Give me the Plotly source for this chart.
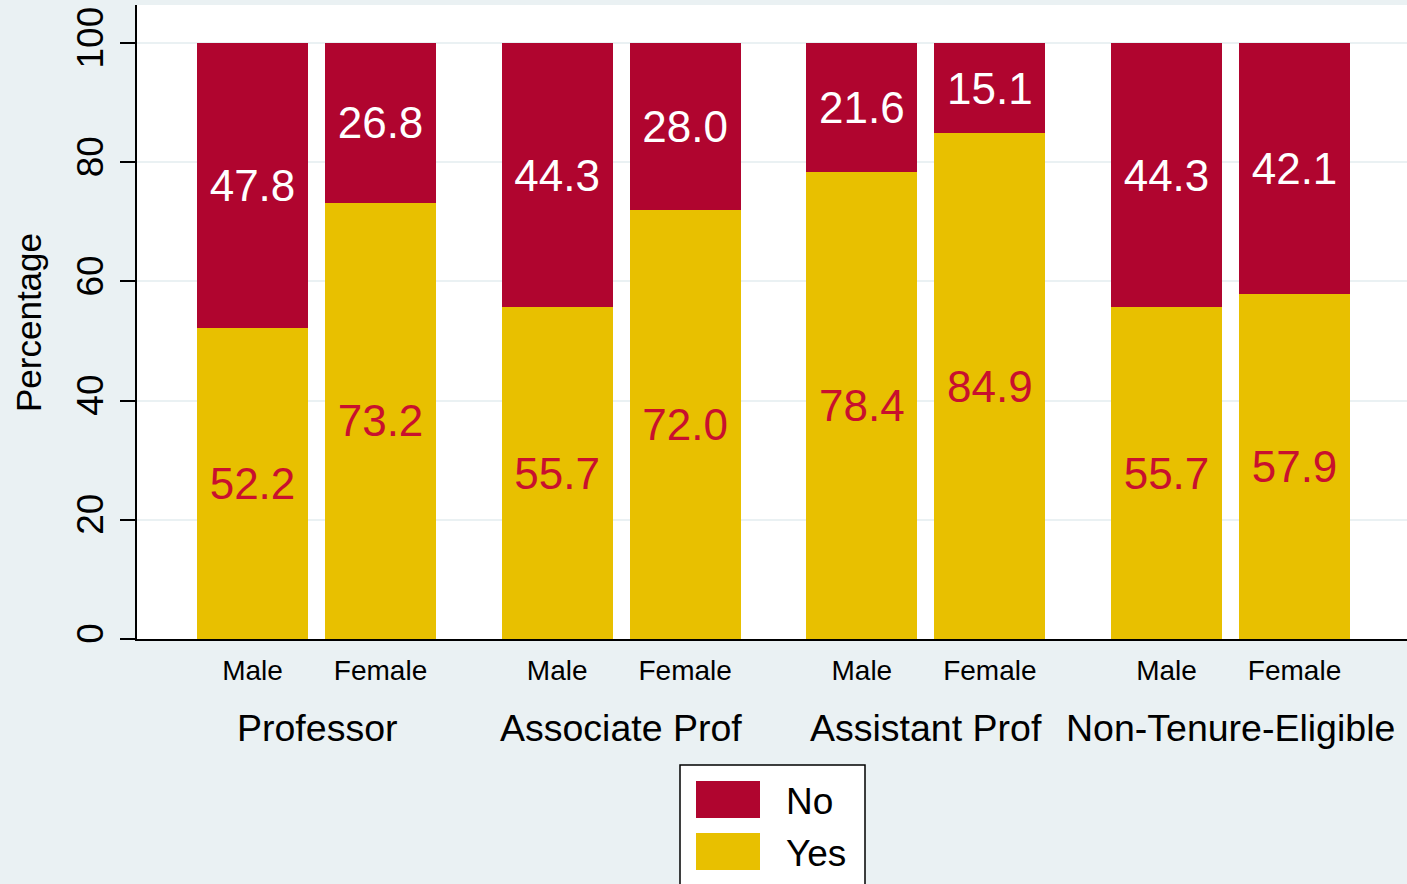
import plotly.graph_objects as go

groups = ["Professor", "Associate Prof", "Assistant Prof", "Non-Tenure-Eligible"]
sexes = ["Male", "Female"]
no_vals = [47.8, 26.8, 44.3, 28.0, 21.6, 15.1, 44.3, 42.1]
yes_vals = [52.2, 73.2, 55.7, 72.0, 78.4, 84.9, 55.7, 57.9]
y_ticks = [0, 20, 40, 60, 80, 100]

RED = "#B0052F"
YELLOW = "#E8C000"
YES_TEXT = "#C8102E"
BG = "#EAF1F3"
FONT = "Liberation Sans, Arial, sans-serif"

W, H = 1407, 884
L, R, T, B = 137, 0, 5, 245
PW, PH = W - L - R, H - T - B

def px(x):
    return (x - L) / PW

def py(y):
    return (H - B - y) / PH

# bar positions (layout): group centre g, sex offset
off = 0.2101
xs = []
for g in range(len(groups)):
    xs += [g - off, g + off]
labels = sexes * len(groups)

fig = go.Figure()
fig.add_trace(go.Bar(
    x=xs, y=yes_vals, name="Yes", width=0.3643,
    marker=dict(color=YELLOW, line=dict(width=0)),
    text=[f"{v:.1f}" for v in yes_vals], textposition="inside",
    insidetextanchor="middle", textangle=0,
    textfont=dict(color=YES_TEXT, size=44, family=FONT),
))
fig.add_trace(go.Bar(
    x=xs, y=no_vals, name="No", width=0.3643,
    marker=dict(color=RED, line=dict(width=0)),
    text=[f"{v:.1f}" for v in no_vals], textposition="inside",
    insidetextanchor="middle", textangle=0,
    textfont=dict(color="white", size=44, family=FONT),
))

ann = []
for g, name in enumerate(groups):
    ann.append(dict(x=g, y=py(728), xref="x", yref="paper", text=name,
                    showarrow=False, xanchor="center", yanchor="middle",
                    font=dict(size=37.5, color="black", family=FONT)))
ann.append(dict(x=px(28), y=py(322), xref="paper", yref="paper", text="Percentage",
                showarrow=False, textangle=-90, xanchor="center", yanchor="middle",
                font=dict(size=35, color="black", family=FONT)))
ann.append(dict(x=px(784), y=py(801), xref="paper", yref="paper", text="No",
                showarrow=False, xanchor="left", yanchor="middle",
                font=dict(size=37, color="black", family=FONT)))
ann.append(dict(x=px(784), y=py(853), xref="paper", yref="paper", text="Yes",
                showarrow=False, xanchor="left", yanchor="middle",
                font=dict(size=37, color="black", family=FONT)))

shapes = [
    dict(type="rect", xref="paper", yref="paper", x0=px(680), x1=px(865),
         y0=py(892), y1=py(765), fillcolor="white", line=dict(color="black", width=1.5)),
    dict(type="rect", xref="paper", yref="paper", x0=px(696), x1=px(760),
         y0=py(818), y1=py(781), fillcolor=RED, line=dict(width=0)),
    dict(type="rect", xref="paper", yref="paper", x0=px(696), x1=px(760),
         y0=py(870), y1=py(833), fillcolor=YELLOW, line=dict(width=0)),
]

fig.update_layout(
    width=W, height=H, barmode="stack", showlegend=False,
    paper_bgcolor=BG, plot_bgcolor="white",
    margin=dict(l=L, r=R, t=T, b=B),
    font=dict(family=FONT, color="black"),
    annotations=ann, shapes=shapes,
    xaxis=dict(range=[-0.5892, 3.5793], tickvals=xs, ticktext=labels,
               tickfont=dict(size=28), ticks="", showgrid=False, zeroline=False,
               showline=True, linecolor="black", linewidth=1.5,
               ticklabelstandoff=6),
    yaxis=dict(range=[0, 106.4], tickvals=y_ticks, tickangle=-90,
               tickfont=dict(size=37), ticks="outside", ticklen=15, tickwidth=1.5,
               tickcolor="black", showline=True, linecolor="black", linewidth=1.5,
               gridcolor=BG, gridwidth=2, zeroline=False, ticklabelstandoff=2),
)
fig.write_html("out.html", config={"displayModeBar": False},
               post_script="document.body.style.margin='0';document.body.style.overflow='hidden';")
